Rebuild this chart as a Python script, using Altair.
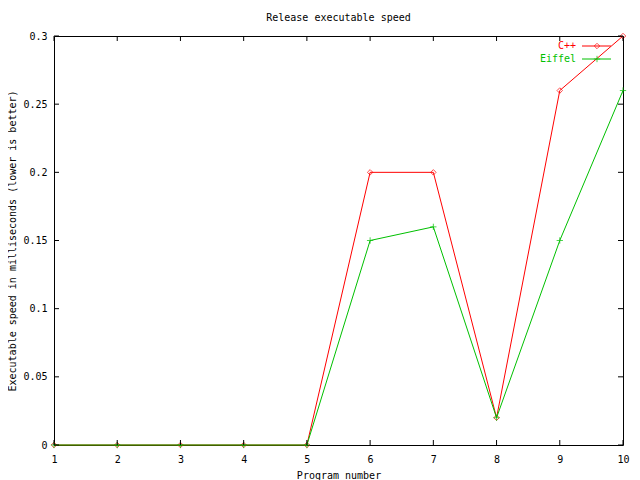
import altair as alt
import pandas as pd

programs = [1, 2, 3, 4, 5, 6, 7, 8, 9, 10]
cpp_speed = [0, 0, 0, 0, 0, 0.2, 0.2, 0.02, 0.26, 0.3]
eiffel_speed = [0, 0, 0, 0, 0, 0.15, 0.16, 0.02, 0.15, 0.26]
series_names = ["C++", "Eiffel"]
series_colors = ["#ff0000", "#00c000"]
x_ticks = [1, 2, 3, 4, 5, 6, 7, 8, 9, 10]
y_ticks = [0, 0.05, 0.1, 0.15, 0.2, 0.25, 0.3]

W, H = 569, 409
FONT = "DejaVu Sans Mono"
FS = 10

df = pd.DataFrame({
    "program": programs * 2,
    "speed": cpp_speed + eiffel_speed,
    "series": [series_names[0]] * len(programs) + [series_names[1]] * len(programs),
})

xscale = alt.Scale(domain=[1, 10], nice=False, zero=False)
yscale = alt.Scale(domain=[0, 0.3], nice=False, zero=True)
cscale = alt.Scale(domain=series_names, range=series_colors)

xaxis = alt.Axis(values=x_ticks, tickSize=0, domain=False, grid=False,
                 labelPadding=9, labelFont=FONT, labelFontSize=FS, labelColor="black",
                 labelFontWeight="normal", labelFlush=False, labelOverlap=False,
                 title="Program number", titleFont=FONT,
                 titleFontSize=FS, titleFontWeight="normal", titleColor="black",
                 titleX=W / 2, titleY=30, titleBaseline="middle", titleAlign="center")
yaxis = alt.Axis(values=y_ticks, tickSize=0, domain=False, grid=False,
                 labelPadding=7, labelFont=FONT, labelFontSize=FS, labelColor="black",
                 format="~g", labelFlush=False, labelOverlap=False,
                 title="Executable speed in milliseconds (lower is better)",
                 titleFont=FONT, titleFontSize=FS, titleFontWeight="normal",
                 titleColor="black", titleX=-42, titleY=H / 2, titleAngle=270,
                 titleAlign="center", titleBaseline="middle")

X = lambda f: alt.X(f, scale=xscale, axis=xaxis)
Y = lambda f: alt.Y(f, scale=yscale, axis=yaxis)

layers = []
for i, name in enumerate(series_names):
    sub = df[df["series"] == name]
    base = alt.Chart(sub)
    line = base.mark_line(strokeWidth=1).encode(
        x=X("program:Q"), y=Y("speed:Q"),
        color=alt.Color("series:N", scale=cscale, legend=None),
    )
    if i == 0:
        pt = base.mark_point(shape="diamond", filled=False, size=30, strokeWidth=1)
    else:
        pt = base.mark_point(shape="M-1,0L1,0M0,-1L0,1", filled=False, size=40, strokeWidth=1)
    pts = pt.encode(
        x=X("program:Q"), y=Y("speed:Q"),
        color=alt.Color("series:N", scale=cscale, legend=None),
    )
    layers += [line, pts]

# inward ticks, mirrored on all four sides
xt = alt.Chart(pd.DataFrame({"t": x_ticks}))
yt = alt.Chart(pd.DataFrame({"t": y_ticks}))
tick_style = dict(color="black", strokeWidth=1)
layers += [
    xt.mark_rule(**tick_style).encode(x=X("t:Q"), y=alt.value(H), y2=alt.value(H - 5)),
    xt.mark_rule(**tick_style).encode(x=X("t:Q"), y=alt.value(0), y2=alt.value(5)),
    yt.mark_rule(**tick_style).encode(y=Y("t:Q"), x=alt.value(0), x2=alt.value(5)),
    yt.mark_rule(**tick_style).encode(y=Y("t:Q"), x=alt.value(W), x2=alt.value(W - 5)),
]

# manual legend (top right)
leg_y = [10, 23]
for i, name in enumerate(series_names):
    one = alt.Chart(pd.DataFrame({"label": [name]}))
    c = series_colors[i]
    layers.append(one.mark_text(align="right", baseline="middle", font=FONT, fontSize=FS, color=c).encode(
        text="label:N", x=alt.value(522), y=alt.value(leg_y[i])))
    layers.append(one.mark_rule(color=c, strokeWidth=1).encode(
        x=alt.value(528), x2=alt.value(557), y=alt.value(leg_y[i])))
    if i == 0:
        m = one.mark_point(shape="diamond", filled=False, size=30, strokeWidth=1, color=c)
    else:
        m = one.mark_point(shape="M-1,0L1,0M0,-1L0,1", filled=False, size=40, strokeWidth=1, color=c)
    layers.append(m.encode(x=alt.value(543), y=alt.value(leg_y[i])))

chart = alt.layer(*layers).properties(
    width=W, height=H,
    title=alt.TitleParams("Release executable speed", font=FONT, fontSize=FS,
                          fontWeight="normal", color="black", offset=8),
    autosize=alt.AutoSizeParams(type="none"),
    padding={"left": 46, "top": 28, "right": 9, "bottom": 35},
    background="white",
).configure_view(stroke="black", strokeWidth=1)

chart.save("out.html", embed_options={"renderer": "svg", "actions": False})
